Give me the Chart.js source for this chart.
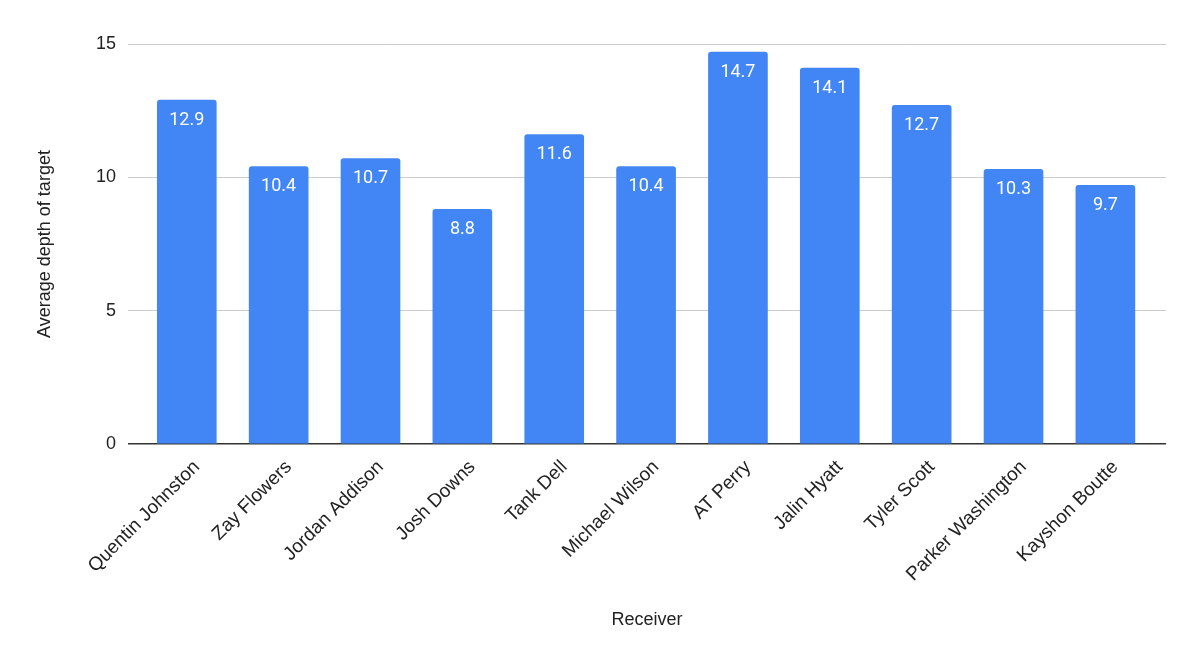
<!DOCTYPE html>
<html>
<head>
<meta charset="utf-8">
<script src="https://cdn.jsdelivr.net/npm/chart.js@4"></script>
<style>
  html, body { margin: 0; padding: 0; background: #fff; }
  #wrap { width: 1200px; height: 663px; position: relative; }
</style>
</head>
<body>
<div id="wrap"><canvas id="chart"></canvas></div>
<script>
// Receivers and their average depth of target (yards)
const receivers = [
  'Quentin Johnston', 'Zay Flowers', 'Jordan Addison', 'Josh Downs', 'Tank Dell',
  'Michael Wilson', 'AT Perry', 'Jalin Hyatt', 'Tyler Scott', 'Parker Washington', 'Kayshon Boutte'
];
const avgDepth = [12.9, 10.4, 10.7, 8.8, 11.6, 10.4, 14.7, 14.1, 12.7, 10.3, 9.7];
const yTicks = [0, 5, 10, 15];

const labelFont = "'Liberation Sans', Arial, sans-serif";

// White value labels inside the top of each bar
const valueLabels = {
  id: 'valueLabels',
  afterDatasetsDraw(chart) {
    const ctx = chart.ctx;
    const meta = chart.getDatasetMeta(0);
    ctx.save();
    ctx.fillStyle = '#ffffff';
    ctx.font = "18px Roboto, sans-serif";
    ctx.textAlign = 'center';
    ctx.textBaseline = 'middle';
    meta.data.forEach((bar, i) => {
      ctx.fillText(avgDepth[i].toFixed(1), bar.x, bar.y + 20);
    });
    ctx.restore();
  }
};

new Chart(document.getElementById('chart'), {
  type: 'bar',
  data: {
    datasets: [{
      label: 'Average depth of target',
      data: avgDepth.map((v, i) => ({ x: i, y: v })),
      backgroundColor: '#4285F4',
      borderRadius: 3,
      barThickness: 59
    }]
  },
  options: {
    responsive: true,
    maintainAspectRatio: false,
    animation: false,
    layout: { padding: { top: 44, right: 34, left: 0, bottom: 0 } },
    plugins: { legend: { display: false }, tooltip: { enabled: false } },
    scales: {
      x: {
        type: 'linear',
        offset: false,
        min: -0.64,
        max: 10.66,
        afterBuildTicks(scale) {
          scale.ticks = receivers.map((_, i) => ({ value: i }));
        },
        afterFit(scale) { scale.height = 219; },
        grid: { display: false, drawTicks: false, offset: false },
        border: { display: false },
        ticks: {
          autoSkip: false,
          minRotation: 45,
          maxRotation: 45,
          padding: 12,
          labelOffset: 10,
          color: '#222',
          font: { family: labelFont, size: 19 },
          callback: (v) => receivers[v] ?? ''
        },
        title: {
          display: true,
          text: 'Receiver',
          color: '#222',
          font: { family: labelFont, size: 18 },
          padding: { top: 4, bottom: 32 }
        }
      },
      y: {
        min: 0,
        max: 15,
        afterBuildTicks(scale) {
          scale.ticks = yTicks.map(v => ({ value: v }));
        },
        afterFit(scale) { scale.width = 128; },
        grid: {
          drawTicks: false,
          color: (c) => c.tick && c.tick.value === 0 ? '#333333' : '#cccccc',
          lineWidth: (c) => c.tick && c.tick.value === 0 ? 1.5 : 1
        },
        border: { display: false },
        ticks: {
          padding: 12,
          color: '#222',
          font: { family: labelFont, size: 18 }
        },
        title: {
          display: true,
          text: 'Average depth of target',
          color: '#222',
          font: { family: labelFont, size: 18 },
          padding: { top: 34, bottom: 0 }
        }
      }
    }
  },
  plugins: [valueLabels]
});
</script>
</body>
</html>
